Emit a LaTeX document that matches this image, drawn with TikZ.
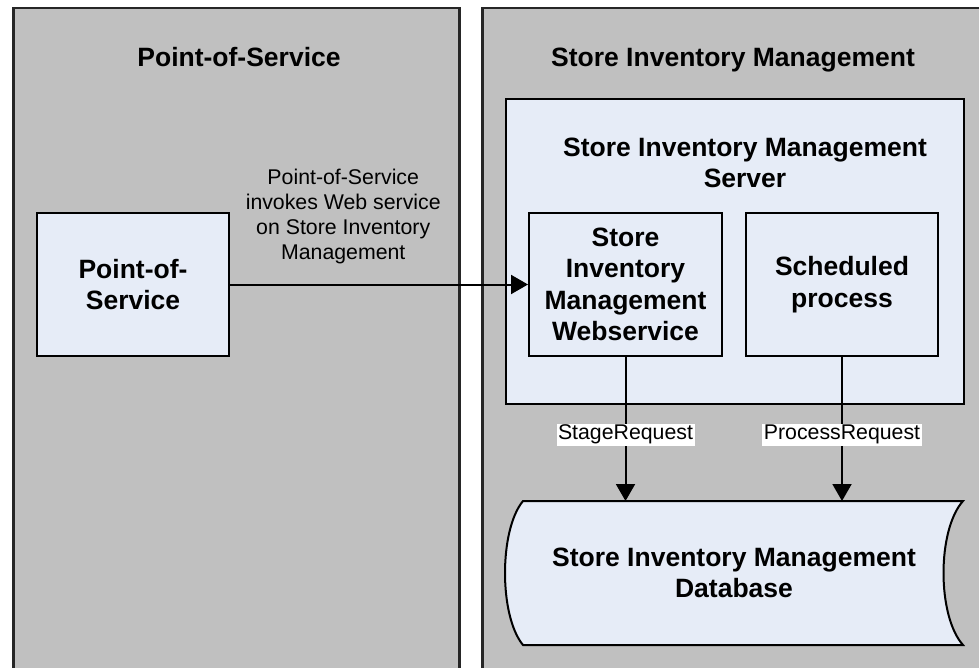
\documentclass[tikz,border=0pt]{standalone}
\usepackage{fontspec}
\setmainfont{Liberation Sans}
\usepackage{tikz}
\usetikzlibrary{arrows.meta,calc,positioning}

\definecolor{panelgray}{HTML}{C0C0C0}
\definecolor{boxblue}{HTML}{E6ECF7}
\newcommand{\bigbold}{\fontsize{26.5}{31.5}\selectfont\bfseries}
\newcommand{\smalltext}{\fontsize{21.3}{25}\selectfont}

\tikzset{
	panel/.style={draw=black!85,line width=2.5pt,fill=panelgray,anchor=north west,inner sep=0pt},
	unit/.style={draw,line width=2pt,fill=boxblue,align=center,inner sep=0pt,font=\bigbold},
	flow/.style={line width=2pt,-{Triangle[length=17pt,width=19pt]}},
	tag/.style={fill=white,inner sep=1.5pt,font=\smalltext},
}

\begin{document}
\begin{tikzpicture}[x=1pt,y=-1pt]
	\clip (0,0) rectangle (979,668);
	% the two systems
	\node[panel,minimum width=446pt,minimum height=662pt] (pospanel) at (12,7) {};
	\node[panel,minimum width=520pt,minimum height=662pt] (simpanel) at (481,7) {};
	\node[font=\bigbold,anchor=base] (postitle) at (239,67) {Point-of-Service};
	\node[font=\bigbold,anchor=base] (simtitle) at (733,67) {Store Inventory Management};
	
	% server with its two parts
	\node[unit,minimum width=458pt,minimum height=305pt,anchor=north west] (server) at (505,98) {};
	\node[font=\bigbold,align=center] (servertitle) at (745,163) {Store Inventory Management\\Server};
	\node[unit,minimum width=193pt,minimum height=143pt] (ws) at (625.5,284.5) {Store\\Inventory\\Management\\Webservice};
	\node[unit,minimum width=192pt,minimum height=143pt] (sched) at (842,284.5) {Scheduled\\process};
	\node[unit,minimum width=192pt,minimum height=143pt] (pos) at (133,284.5) {Point-of-\\Service};
	
	% stored data shape
	\node[minimum width=440pt,minimum height=144pt,inner sep=0pt,outer sep=0pt] (dbarea) at (743,573) {};
	\draw[line width=2pt,fill=boxblue] (dbarea.north west) -- (dbarea.north east)
		.. controls ($(dbarea.north east)+(-26,29)$) and ($(dbarea.south east)+(-26,-29)$) .. (dbarea.south east)
		-- (dbarea.south west)
		.. controls ($(dbarea.south west)+(-24,-29)$) and ($(dbarea.north west)+(-24,29)$) .. (dbarea.north west) -- cycle;
	\node[font=\bigbold,align=center] (db) at (734,573) {Store Inventory Management\\Database};
	
	% calls
	\draw[flow] (pos) -- (ws) node[pos=0.38,above=20pt,inner sep=0pt,font=\smalltext,align=center] (note) {Point-of-Service\\invokes Web service\\on Store Inventory\\Management};
	\draw[flow] (ws) -- (ws |- dbarea.north) node[tag,pos=0.54] (stagetag) {StageRequest};
	\draw[flow] (sched) -- (sched |- dbarea.north) node[tag,pos=0.54] (processtag) {ProcessRequest};
\end{tikzpicture}
\end{document}
